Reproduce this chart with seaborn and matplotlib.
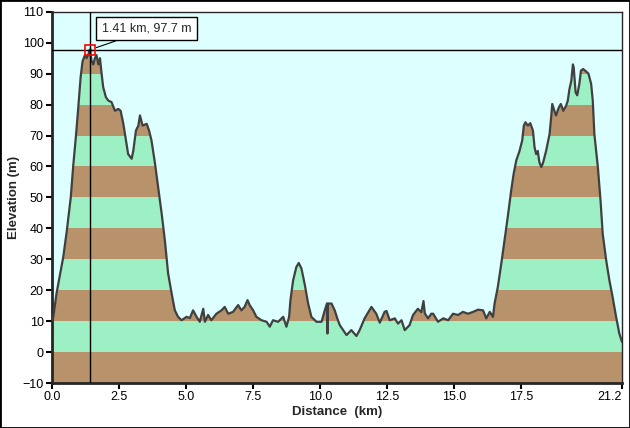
import numpy as np
import matplotlib
matplotlib.use("Agg")
import matplotlib.pyplot as plt
import seaborn as sns
from matplotlib.patches import Polygon, Rectangle

# Profile
dist_km = [0.00, 0.05, 0.17, 0.30, 0.42, 0.55, 0.70, 0.79, 0.89, 0.98, 1.07, 1.14,
           1.23, 1.29, 1.36, 1.41, 1.48, 1.54, 1.60, 1.66, 1.73, 1.79, 1.85, 1.91,
           2.01, 2.10, 2.22, 2.35, 2.47, 2.56, 2.66, 2.76, 2.84, 2.97, 3.03, 3.13,
           3.22, 3.28, 3.38, 3.53, 3.62, 3.71, 3.84, 3.96, 4.09, 4.21, 4.33, 4.46,
           4.58, 4.70, 4.83, 5.02, 5.14, 5.26, 5.39, 5.51, 5.64, 5.70, 5.82, 5.94,
           6.13, 6.32, 6.44, 6.57, 6.75, 6.94, 7.06, 7.18, 7.29, 7.37, 7.50, 7.62,
           7.81, 8.00, 8.12, 8.24, 8.43, 8.62, 8.74, 8.84, 8.89, 8.99, 9.11, 9.20,
           9.30, 9.42, 9.55, 9.67, 9.86, 10.05, 10.17, 10.25, 10.27, 10.29, 10.42,
           10.54, 10.66, 10.73, 10.98, 11.16, 11.35, 11.47, 11.66, 11.91, 12.09,
           12.22, 12.40, 12.47, 12.59, 12.78, 12.90, 13.03, 13.15, 13.33, 13.46,
           13.64, 13.77, 13.85, 13.90, 14.02, 14.14, 14.21, 14.39, 14.59, 14.77,
           14.95, 15.14, 15.32, 15.51, 15.70, 15.88, 16.07, 16.19, 16.32, 16.44,
           16.50, 16.62, 16.75, 16.87, 16.99, 17.12, 17.21, 17.31, 17.43, 17.53,
           17.59, 17.65, 17.74, 17.83, 17.93, 17.99, 18.05, 18.11, 18.17, 18.24,
           18.30, 18.42, 18.55, 18.61, 18.65, 18.73, 18.79, 18.89, 18.97, 19.06,
           19.17, 19.23, 19.29, 19.36, 19.42, 19.45, 19.52, 19.58, 19.66, 19.72,
           19.80, 19.90, 20.00, 20.10, 20.16, 20.22, 20.35, 20.45, 20.53, 20.66,
           20.78, 20.90, 21.03, 21.15, 21.25]
elev_m = [10.0, 11.4, 19.0, 25.0, 30.7, 39.0, 50.0, 60.0, 69.5, 79.0, 89.0, 94.0,
          96.0, 95.0, 96.3, 97.7, 94.0, 93.0, 95.0, 96.0, 93.0, 95.0, 90.0, 85.6,
          82.4, 81.3, 80.8, 78.0, 78.6, 78.0, 73.8, 68.4, 64.0, 62.5, 65.0, 71.6,
          73.2, 76.5, 73.2, 73.8, 71.6, 68.4, 61.0, 53.3, 44.7, 36.0, 25.4, 19.0,
          13.5, 11.4, 10.3, 11.4, 11.0, 13.5, 11.4, 9.8, 14.0, 9.8, 12.0, 10.3,
          12.4, 13.5, 14.6, 12.4, 13.0, 15.2, 13.5, 14.6, 16.8, 15.2, 13.5, 11.4,
          10.3, 9.8, 8.2, 10.3, 9.8, 11.4, 8.2, 11.4, 16.8, 23.2, 27.5, 28.8,
          27.0, 22.0, 15.7, 11.4, 9.8, 9.8, 13.5, 15.7, 6.0, 15.7, 15.7,
          13.5, 10.3, 8.7, 5.5, 7.1, 5.2, 7.1, 11.0, 14.6, 12.4,
          9.5, 13.0, 13.3, 10.3, 10.9, 9.2, 10.3, 7.1, 8.7, 12.0,
          14.0, 12.9, 16.5, 12.5, 10.9, 12.4, 12.4, 9.8, 10.9, 10.3,
          12.4, 12.0, 13.0, 12.4, 13.0, 13.7, 13.5, 10.9, 13.0, 11.4,
          15.7, 21.0, 28.6, 36.0, 43.6, 52.3, 57.6, 62.0, 65.0, 68.4,
          73.2, 74.3, 73.2, 74.0, 71.6, 66.2, 64.0, 65.0, 61.4, 59.8,
          61.0, 65.0, 70.5, 76.0, 80.2, 78.0, 76.5, 79.0, 80.2, 78.0,
          79.7, 81.3, 85.0, 87.7, 93.0, 92.0, 84.0, 83.0, 86.7, 91.0,
          91.5, 90.8, 90.0, 86.7, 81.3, 70.5, 59.8, 49.0, 38.3, 29.7,
          23.2, 17.8, 11.4, 6.0, 3.3]

band_edges = list(range(-10, 101, 10))
x_ticks = [0.0, 2.5, 5.0, 7.5, 10.0, 12.5, 15.0, 17.5, 21.25]
x_tick_labels = ["0.0", "2.5", "5.0", "7.5", "10.0", "12.5", "15.0", "17.5", "21.2"]
y_ticks = list(range(-10, 111, 10))
cursor_km, cursor_m = 1.41, 97.7

sns.set_style("ticks")
plt.rcParams['font.family'] = ['Liberation Sans Narrow', 'Liberation Sans', 'DejaVu Sans']

brown = '#B8926A'
green = '#9DF0C3'

fig = plt.figure(figsize=(6.3, 4.28), dpi=100)
ax = fig.add_axes([0.0825, 0.1051, 0.9048, 0.8673])
ax.set_facecolor('#DDFFFF')

# area under the profile, used to clip the coloured bands
x = np.array(dist_km)
y = np.array(elev_m)
verts = np.vstack([[x[0], -10], np.column_stack([x, y]), [x[-1], -10]])
clip = Polygon(verts, closed=True, facecolor='none', edgecolor='none')
ax.add_patch(clip)
for i in range(len(band_edges) - 1):
    col = brown if i % 2 == 0 else green
    span = ax.axhspan(band_edges[i], band_edges[i + 1], color=col, lw=0, zorder=1)
    span.set_clip_path(clip)

sns.lineplot(x=dist_km, y=elev_m, sort=False, color='#404040', lw=1.6, ax=ax, zorder=3)

# cursor
ax.axvline(cursor_km, color='black', lw=1, zorder=4)
ax.axhline(cursor_m, color='black', lw=1, zorder=4)
ax.plot(cursor_km, cursor_m, marker='s', ms=7, mfc='none', mec='red', mew=1.2, zorder=5)
ax.plot(cursor_km, cursor_m, marker='+', ms=5, color='black', mew=1, zorder=6)
ax.annotate(f"{cursor_km:.2f} km, {cursor_m:.1f} m", xy=(cursor_km, cursor_m),
            xytext=(57, 21), textcoords='offset pixels', ha='center', va='center',
            fontsize=9,
            bbox=dict(boxstyle='square,pad=0.45', fc='white', ec='black', lw=1),
            arrowprops=dict(arrowstyle='-', color='black', lw=0.8,
                            relpos=(0.35, 0), shrinkA=0, shrinkB=5),
            zorder=7)

ax.set_xlim(0, 21.25)
ax.set_ylim(-10, 110)
ax.set_xticks(x_ticks)
ax.set_xticklabels(x_tick_labels)
ax.get_xticklabels()[-1].set_horizontalalignment('right')
ax.set_yticks(y_ticks)
ax.tick_params(direction='out', length=4, width=1.5, labelsize=9, colors='black', pad=2)
for side in ['left', 'bottom']:
    ax.spines[side].set_linewidth(2)
for side in ['top', 'right']:
    ax.spines[side].set_linewidth(1)
ax.set_xlabel("Distance  (km)", fontweight='bold', fontsize=9.5, labelpad=2)
ax.set_ylabel("Elevation (m)", fontweight='bold', fontsize=9.5, labelpad=2)

fig.patches.append(Rectangle((0, 0), 1, 1, transform=fig.transFigure, fill=False,
                             edgecolor='black', lw=2))

fig.savefig("out.png", dpi=100)
